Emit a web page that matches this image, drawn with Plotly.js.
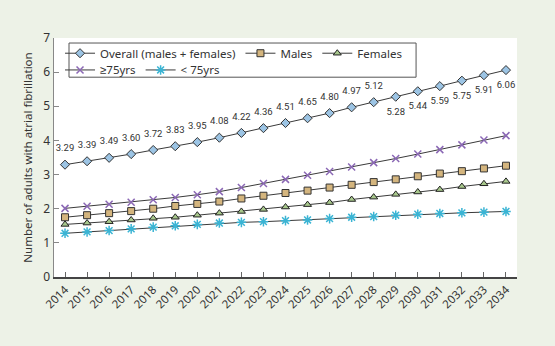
<!DOCTYPE html>
<html>
<head>
<meta charset="utf-8">
<script src="https://cdn.plot.ly/plotly-3.0.1.min.js"></script>
<style>html,body{margin:0;padding:0;background:#EDF2E7;}#chart{width:555px;height:346px;}</style>
</head>
<body>
<div id="chart"></div>
<script>
const years = [2014,2015,2016,2017,2018,2019,2020,2021,2022,2023,2024,2025,2026,2027,2028,2029,2030,2031,2032,2033,2034];
const overall = [3.29,3.39,3.49,3.60,3.72,3.83,3.95,4.08,4.22,4.36,4.51,4.65,4.80,4.97,5.12,5.28,5.44,5.59,5.75,5.91,6.06];
const males = [1.75,1.81,1.87,1.93,2.00,2.08,2.14,2.21,2.30,2.38,2.46,2.53,2.62,2.70,2.78,2.86,2.95,3.03,3.10,3.18,3.26];
const females = [1.54,1.58,1.62,1.67,1.72,1.75,1.81,1.87,1.92,1.98,2.05,2.12,2.18,2.27,2.34,2.42,2.49,2.56,2.65,2.73,2.80];
const over75 = [2.01,2.07,2.13,2.19,2.26,2.33,2.41,2.50,2.62,2.74,2.86,2.98,3.09,3.22,3.35,3.47,3.60,3.73,3.87,4.01,4.14];
const under75 = [1.28,1.32,1.36,1.41,1.46,1.50,1.54,1.58,1.60,1.62,1.65,1.67,1.71,1.75,1.77,1.81,1.84,1.86,1.88,1.90,1.92];
const overallLabels = overall.map(v => v.toFixed(2));
const labelPos = years.map(y => y >= 2029 ? 'bottom center' : 'top center');
const yTitle = 'Number of adults with atrial fibrillation';

const lineCol = '#3a3a3a';
const traces = [
  {x: years, y: overall, name: 'Overall (males + females)', mode: 'lines+markers', legend: 'legend',
   line: {color: lineCol, width: 1}, marker: {symbol: 'diamond', size: 7, color: '#9CC4E4', line: {color: '#333', width: 1}}},
  {x: years, y: males, name: 'Males', mode: 'lines+markers', legend: 'legend',
   line: {color: lineCol, width: 1}, marker: {symbol: 'square', size: 7, color: '#D4B57E', line: {color: '#333', width: 1}}},
  {x: years, y: females, name: 'Females', mode: 'lines+markers', legend: 'legend',
   line: {color: lineCol, width: 1}, marker: {symbol: 'triangle-up', size: 7, color: '#A8C88C', line: {color: '#222', width: 1}}},
  {x: years, y: over75, name: '≥75yrs', mode: 'lines+markers', legend: 'legend2',
   line: {color: lineCol, width: 1}, marker: {symbol: 'x-thin-open', size: 7, color: '#8B68B5', line: {color: '#8B68B5', width: 1.5}}},
  {x: years, y: under75, name: '< 75yrs', mode: 'lines+markers', legend: 'legend2',
   line: {color: lineCol, width: 1}, marker: {symbol: 'asterisk-open', size: 8, color: '#3AB4D4', line: {color: '#3AB4D4', width: 1.5}}},
  {x: years, y: overall, text: overallLabels, mode: 'markers+text', textposition: labelPos, showlegend: false,
   marker: {size: 16, color: 'rgba(0,0,0,0)', line: {width: 0}},
   textfont: {family: 'Roboto, sans-serif', size: 9.5, color: '#333'}, hoverinfo: 'skip'}
];

const layout = {
  width: 555, height: 346,
  paper_bgcolor: '#EDF2E7', plot_bgcolor: '#FFFFFF',
  margin: {l: 54, r: 38, t: 38, b: 69, pad: 0},
  font: {family: 'Noto Sans, sans-serif', color: '#333', size: 11},
  xaxis: {range: [2013.5, 2034.5], tickvals: years, ticktext: years.map(String), tickangle: -45,
    ticks: 'inside', ticklen: 5, tickcolor: '#666', showline: true, linecolor: '#444', linewidth: 1.5,
    showgrid: false, zeroline: false, tickfont: {size: 11.5, color: '#333'}},
  yaxis: {range: [0, 7], dtick: 1, ticks: 'inside', ticklen: 5, tickcolor: '#888', showline: true,
    linecolor: '#888', linewidth: 1.5, showgrid: false, zeroline: false, tickfont: {size: 12, color: '#333'},
    title: {text: yTitle, font: {size: 11.5, color: '#333'}, standoff: 8}},
  legend: {orientation: 'h', x: 0.013, y: 0.997, xanchor: 'left', yanchor: 'top', bgcolor: 'rgba(0,0,0,0)',
    borderwidth: 0, font: {size: 11.5, color: '#333'}, itemwidth: 30},
  legend2: {orientation: 'h', x: 0.013, y: 0.927, xanchor: 'left', yanchor: 'top', bgcolor: 'rgba(0,0,0,0)',
    borderwidth: 0, font: {size: 11.5, color: '#333'}, itemwidth: 30},
  shapes: [{type: 'rect', xref: 'paper', yref: 'paper', x0: 0.0324, x1: 0.782, y0: 0.836, y1: 0.979,
    line: {color: '#555', width: 1}, fillcolor: 'rgba(0,0,0,0)'}],
  showlegend: true
};
Plotly.newPlot('chart', traces, layout, {displayModeBar: false, staticPlot: true});
</script>
</body>
</html>
